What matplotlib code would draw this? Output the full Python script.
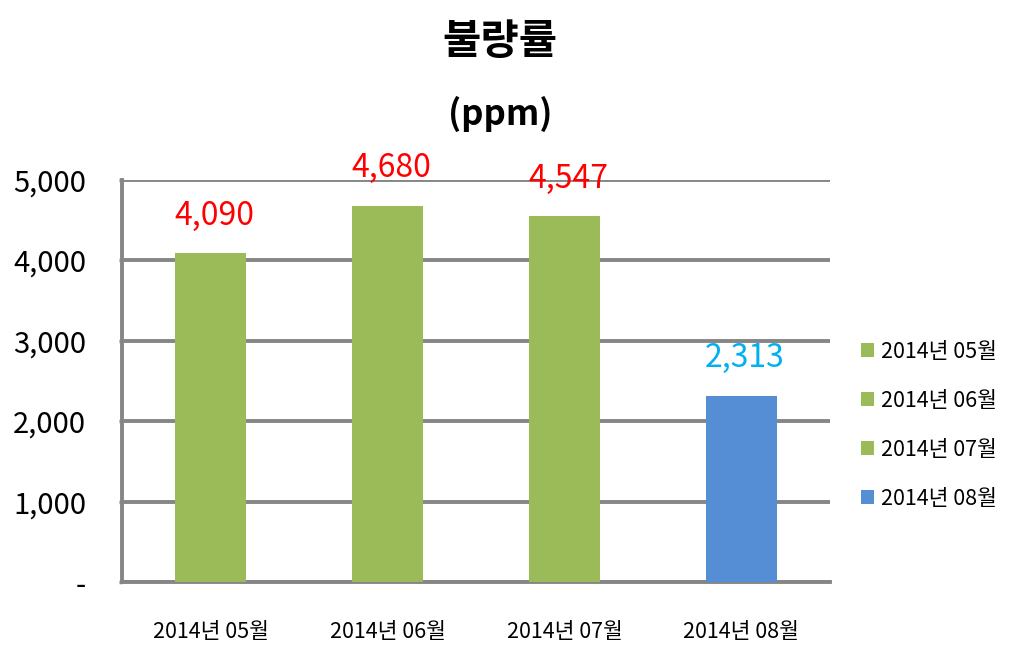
import matplotlib.pyplot as plt
from matplotlib.ticker import FuncFormatter

plt.rcParams['font.family'] = ['Noto Sans CJK KR', 'DejaVu Sans']

months = ['2014년 05월', '2014년 06월', '2014년 07월', '2014년 08월']
ppm = [4090, 4680, 4547, 2313]
bar_colors = ['#9BBB59', '#9BBB59', '#9BBB59', '#558ED5']
label_colors = ['#FF0000', '#FF0000', '#FF0000', '#00B0F0']

fig = plt.figure(figsize=(10.12, 6.68), dpi=100)
ax = fig.add_axes([0.1206, 0.1287, 0.6994, 0.6018])

x = range(len(months))
for i in x:
    ax.bar(i, ppm[i], width=0.4, color=bar_colors[i], label=months[i], zorder=3)
    ax.text(i + 0.02, ppm[i] + 270, f'{ppm[i]:,}', ha='center', va='bottom',
            color=label_colors[i], fontsize=23)

ax.set_xlim(-0.5, 3.5)
ax.set_ylim(0, 5000)
ax.set_yticks(range(0, 5001, 1000))
ax.yaxis.set_major_formatter(FuncFormatter(lambda v, p: '-' if v == 0 else f'{int(v):,}'))
ax.set_xticks(list(x))
ax.set_xticklabels(months, fontsize=15.5)
ax.tick_params(axis='x', length=0, pad=28)
ax.tick_params(axis='y', labelsize=21, length=2, width=2.5, color='#868686', pad=24)

ax.grid(axis='y', color='#868686', linewidth=2.8, zorder=0)
for s in ['top', 'right']:
    ax.spines[s].set_visible(False)
for s in ['left', 'bottom']:
    ax.spines[s].set_color('#868686')
    ax.spines[s].set_linewidth(2.8)

fig.text(0.494, 0.937, '불량률', ha='center', va='center', fontsize=30, fontweight='bold')
fig.text(0.494, 0.83, '(ppm)', ha='center', va='center', fontsize=25, fontweight='bold')

leg = ax.legend(loc='center left', bbox_to_anchor=(1.017, 0.39), frameon=False,
                fontsize=15.5, handlelength=0.6, handleheight=0.6, handletextpad=0.3,
                labelspacing=1.25)

fig.savefig('out.png', dpi=100)
